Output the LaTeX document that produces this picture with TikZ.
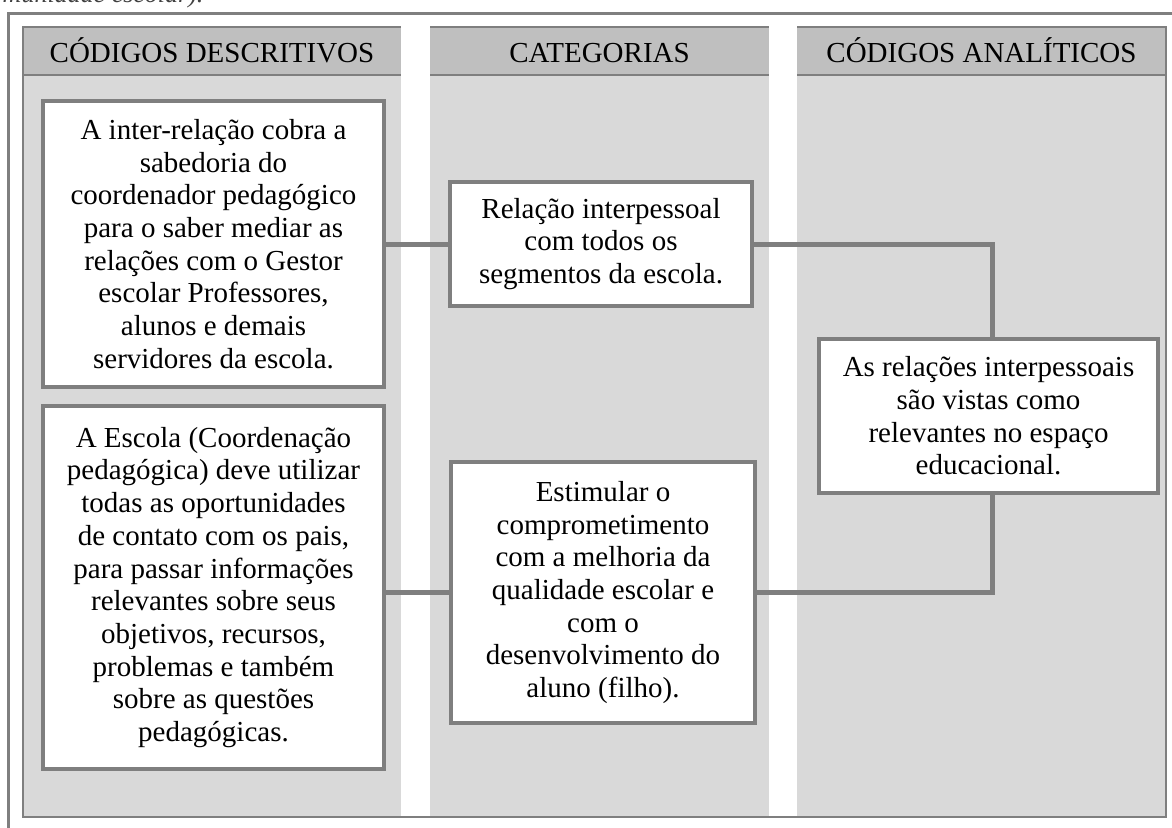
\documentclass[tikz,border=0pt]{standalone}
\usepackage{fontspec}
\setmainfont{Liberation Serif}
\usetikzlibrary{calc}
\definecolor{bordergray}{HTML}{7F7F7F}
\definecolor{headfill}{HTML}{BFBFBF}
\definecolor{bodyfill}{HTML}{D9D9D9}
\begin{document}
\begin{tikzpicture}[x=1pt,y=-1pt,
  box/.style={draw=bordergray, line width=4.6pt, fill=white, align=center,
    font=\fontsize{29}{32.7}\selectfont, inner sep=0pt},
  conn/.style={draw=bordergray, line width=5pt},
  head/.style={font=\fontsize{29}{32.7}\selectfont, text=black, inner sep=0pt, anchor=base},
  frame/.style={draw=bordergray, line width=2pt}]
\useasboundingbox (0,0) rectangle (1172,827);
% caption fragment above (cut off)
\node[anchor=base east, font=\itshape\fontsize{26}{30}\selectfont, text=black!75] (cap) at (207,2) {comunidade escolar).};
% outer frame
\draw[bordergray, line width=3pt] (8.5,13) rectangle (1190,850);
% columns
\fill[bodyfill] (23,27) rectangle (1166,817);
\fill[headfill] (23,27) rectangle (1166,75);
\draw[frame] (23,27) rectangle (1166,817);
\draw[frame] (23,75) -- (1166,75);
\fill[white] (401,25) rectangle (430,815.8);
\fill[white] (769,25) rectangle (797,815.8);
% headers
\node[head] (h1) at (212,62) {CÓDIGOS DESCRITIVOS};
\node[head] (h2) at (599.5,62) {CATEGORIAS};
\node[head] (h3) at (981.5,62) {CÓDIGOS ANALÍTICOS};
% boxes
\node[box, minimum width=341, minimum height=286] (b1) at (213.5,244)
  {A inter-relação cobra a\\ sabedoria do\\ coordenador pedagógico\\ para o saber mediar as\\ relações com o Gestor\\ escolar Professores,\\ alunos e demais\\ servidores da escola.};
\node[box, minimum width=341, minimum height=363] (b2) at (213.5,587.5)
  {A Escola (Coordenação\\ pedagógica) deve utilizar\\ todas as oportunidades\\ de contato com os pais,\\ para passar informações\\ relevantes sobre seus\\ objetivos, recursos,\\ problemas e também\\ sobre as questões\\ pedagógicas.};
\node[box, minimum width=302, minimum height=124] (r1) at (601,244)
  {Relação interpessoal\\ com todos os\\ segmentos da escola.};
\node[box, minimum width=304, minimum height=261] (r2) at (603,592.5)
  {Estimular o\\ comprometimento\\ com a melhoria da\\ qualidade escolar e\\ com o\\ desenvolvimento do\\ aluno (filho).};
\node[box, minimum width=339, minimum height=154] (a1) at (988.5,416)
  {As relações interpessoais\\ são vistas como\\ relevantes no espaço\\ educacional.};
% connectors
\draw[conn] (b1.east) -- (r1.west);
\draw[conn] (b2.east |- r2.west) -- (r2.west);
\draw[conn] (r1.east) -| ([xshift=3.5pt]a1.north);
\draw[conn] ([xshift=3.5pt]a1.south) |- (r2.east);
\end{tikzpicture}
\end{document}
